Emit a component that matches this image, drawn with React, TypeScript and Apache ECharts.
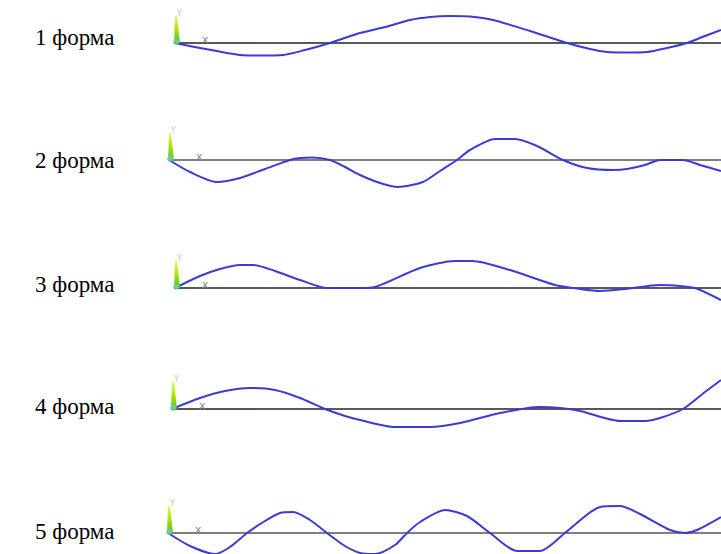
import React, { useEffect, useRef } from "react";
import * as echarts from "echarts";

// Mode shape labels
const modeLabels = ["1 форма", "2 форма", "3 форма", "4 форма", "5 форма"];

// Beam coordinate (relative, from the support) and deflection for each mode
const mode1X = [0, 25, 65, 85, 108, 130, 155, 185, 210, 235, 255, 275, 295, 318, 355, 392, 415, 432, 452, 472, 492, 512, 530, 546];
const mode1Y = [0, -5, -12, -12.5, -12, -7, 0, 10, 16, 23, 26, 27, 26.5, 23, 12, 0, -6, -9, -9.5, -9, -5, 0, 7, 13];

const mode2X = [0, 21, 48, 71, 96, 121, 131, 143, 161, 176, 191, 211, 229, 254, 271, 288, 301, 326, 346, 368, 394, 418, 444, 458, 476, 491, 514, 531, 552];
const mode2Y = [0, -12, -22, -18, -9, 0, 2, 2.5, 0, -7, -15, -23, -27, -22, -11, 0, 10, 21, 21, 14, 0, -8, -10, -9, -5, 0, 0, -5, -11];

const mode3X = [0, 25, 45, 65, 78, 100, 125, 152, 185, 200, 245, 280, 297, 335, 380, 405, 425, 450, 485, 505, 520, 546];
const mode3Y = [0, 12, 19, 23, 23, 17, 8, 0, 0, 1, 20, 27, 27, 18, 3, -1, -3, -1, 3, 2, 0, -12];

const mode4X = [0, 28, 53, 78, 103, 128, 153, 173, 188, 223, 258, 288, 328, 368, 388, 408, 448, 473, 488, 511, 533, 549];
const mode4Y = [0, 11, 18, 21, 19, 11, 0, -7, -11, -18, -18, -14, -4, 2, 1, -2, -12, -12, -9, 0, 17, 29];

const mode5X = [0, 22, 47, 62, 79, 97, 112, 125, 142, 159, 177, 192, 207, 227, 239, 252, 277, 299, 322, 349, 372, 397, 432, 452, 472, 502, 517, 529, 553];
const mode5Y = [0, -13, -21, -14, 0, 12, 20, 21, 13, 0, -13, -20, -21, -12, 0, 11, 23, 17, 0, -18, -18, 0, 26, 27, 19, 3, 0, 3, 16];

const modesX = [mode1X, mode2X, mode3X, mode4X, mode5X];
const modesY = [mode1Y, mode2Y, mode3Y, mode4Y, mode5Y];

// Layout (pixels): left start of each beam and its baseline
const panelLeft = [175, 169, 175, 172, 168];
const panelBase = [43, 160, 288, 409, 533];
const labelCenter = [37, 160, 284, 406, 531];
const W = 721;
const H = 554;
const HALF = 40;

export default function App() {
  const ref = useRef<HTMLDivElement>(null);
  useEffect(() => {
    if (!ref.current) return;
    const chart = echarts.init(ref.current, null, { renderer: "svg" });
    const grid: any[] = [];
    const xAxis: any[] = [];
    const yAxis: any[] = [];
    const series: any[] = [];
    const graphic: any[] = [];
    modesX.forEach((xs, i) => {
      const left = panelLeft[i];
      const base = panelBase[i];
      const top = base - HALF;
      const below = Math.min(HALF, H - base);
      grid.push({ left, right: 0, top, height: HALF + below, containLabel: false });
      xAxis.push({
        type: "value",
        gridIndex: i,
        min: 0,
        max: W - left,
        axisLine: { show: true, onZero: true, lineStyle: { color: i === 1 || i === 4 ? "#555555" : "#222222", width: 1.5 } },
        axisTick: { show: false },
        axisLabel: { show: false },
        splitLine: { show: false },
      });
      yAxis.push({
        type: "value",
        gridIndex: i,
        min: -below,
        max: HALF,
        axisLine: { show: false },
        axisTick: { show: false },
        axisLabel: { show: false },
        splitLine: { show: false },
      });
      series.push({
        type: "line",
        xAxisIndex: i,
        yAxisIndex: i,
        data: xs.map((x, k) => [x, modesY[i][k]]),
        showSymbol: false,
        smooth: 0.25,
        clip: false,
        z: 5,
        lineStyle: { color: "#3b3bd6", width: 2 },
      });
      // Label
      graphic.push({
        type: "text",
        x: 35,
        y: labelCenter[i],
        style: {
          text: modeLabels[i],
          font: '23px "Liberation Serif", "Times New Roman", serif',
          fill: "#000000",
          verticalAlign: "middle",
          align: "left",
        },
      });
      // axis triad decoration
      graphic.push({
        type: "polygon",
        z: 10,
        shape: {
          points: [
            [left - 1, base],
            [left + 5, base],
            [left + 2, base - 27],
            [left, base - 27],
          ],
        },
        style: {
          fill: new echarts.graphic.LinearGradient(0, 1, 0, 0, [
            { offset: 0, color: "#59c23a" },
            { offset: 0.5, color: "#a6e600" },
            { offset: 1, color: "#e4f86a" },
          ]),
        },
      });
      graphic.push({
        type: "circle",
        z: 11,
        shape: { cx: left + 1, cy: base - 1, r: 3 },
        style: { fill: "#6fd0b0", opacity: 0.8 },
      });
      graphic.push({
        type: "text",
        z: 11,
        x: left + 2,
        y: base - 34,
        style: { text: "Y", font: '8px "DejaVu Sans", sans-serif', fill: "#c9c9a8" },
      });
      graphic.push({
        type: "text",
        z: 11,
        x: left + 27,
        y: base - 9,
        style: { text: "x", font: '11px "DejaVu Sans", sans-serif', fill: "#888888" },
      });
    });
    chart.setOption({
      animation: false,
      backgroundColor: "#ffffff",
      grid,
      xAxis,
      yAxis,
      series,
      graphic,
    });
    return () => chart.dispose();
  }, []);
  return (
    <div
      ref={ref}
      style={{ position: "fixed", left: 0, top: 0, width: W, height: H, background: "#fff" }}
    />
  );
}
